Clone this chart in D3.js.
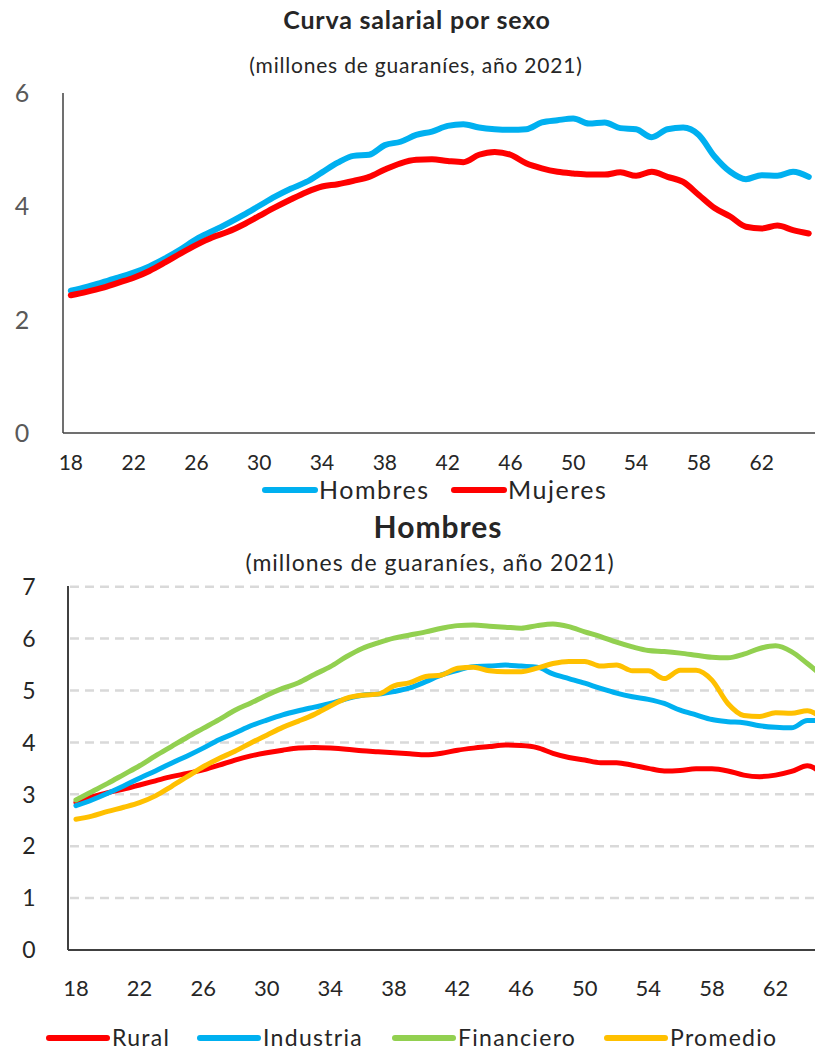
<!DOCTYPE html>
<html><head><meta charset="utf-8">
<script src="https://cdn.jsdelivr.net/npm/d3@7"></script>
<style>body{margin:0;background:#fff}svg{display:block}text{font-family:Lato,"Open Sans",sans-serif}</style>
</head><body><svg id="c" width="815" height="1051"></svg>
<script>
const ages = d3.range(18, 66);
const ageTicks = [18,22,26,30,34,38,42,46,50,54,58,62];
const topYTicks = [0,2,4,6];
const botYTicks = [0,1,2,3,4,5,6,7];

// Top chart: Curva salarial por sexo
const hombres = [2.51,2.58,2.66,2.74,2.83,2.94,3.08,3.24,3.42,3.56,3.70,3.85,4.01,4.17,4.31,4.43,4.60,4.77,4.89,4.91,5.08,5.14,5.26,5.32,5.42,5.45,5.39,5.36,5.35,5.36,5.48,5.52,5.55,5.46,5.48,5.38,5.36,5.22,5.36,5.39,5.26,4.88,4.61,4.48,4.55,4.54,4.61,4.52];
const mujeres = [2.43,2.49,2.56,2.65,2.74,2.86,3.01,3.17,3.32,3.45,3.55,3.68,3.83,3.98,4.12,4.25,4.35,4.39,4.45,4.52,4.65,4.76,4.82,4.83,4.80,4.78,4.91,4.96,4.91,4.76,4.67,4.61,4.58,4.56,4.56,4.60,4.54,4.61,4.52,4.43,4.20,3.97,3.82,3.64,3.61,3.66,3.58,3.52];

// Bottom chart: Hombres por sector
const rural = [2.84,2.95,3.03,3.10,3.18,3.26,3.34,3.40,3.47,3.56,3.66,3.74,3.80,3.85,3.89,3.90,3.89,3.87,3.84,3.82,3.80,3.78,3.76,3.79,3.85,3.89,3.92,3.95,3.94,3.90,3.79,3.71,3.66,3.61,3.61,3.56,3.50,3.45,3.46,3.49,3.49,3.45,3.37,3.34,3.37,3.44,3.55,3.38];
const industria = [2.78,2.89,3.02,3.16,3.31,3.45,3.60,3.74,3.89,4.05,4.18,4.32,4.43,4.53,4.61,4.68,4.75,4.84,4.91,4.93,4.98,5.05,5.17,5.30,5.39,5.46,5.47,5.49,5.47,5.45,5.32,5.23,5.14,5.04,4.95,4.88,4.83,4.75,4.62,4.53,4.44,4.40,4.38,4.32,4.29,4.28,4.42,4.42];
const financiero = [2.89,3.05,3.21,3.38,3.55,3.74,3.92,4.10,4.27,4.44,4.62,4.76,4.91,5.04,5.15,5.31,5.46,5.65,5.81,5.92,6.01,6.07,6.13,6.20,6.25,6.26,6.24,6.22,6.20,6.25,6.28,6.23,6.13,6.04,5.93,5.84,5.77,5.75,5.72,5.68,5.64,5.63,5.70,5.81,5.86,5.75,5.52,5.27];
const promedio = [2.52,2.58,2.67,2.75,2.84,2.97,3.15,3.34,3.53,3.69,3.83,3.99,4.14,4.29,4.41,4.54,4.70,4.85,4.91,4.93,5.09,5.15,5.27,5.30,5.43,5.45,5.38,5.36,5.36,5.43,5.52,5.56,5.56,5.47,5.49,5.38,5.38,5.23,5.39,5.39,5.20,4.75,4.52,4.50,4.57,4.56,4.61,4.45];

const svg = d3.select("#c");
const BLUE="#00B0F0", RED="#FF0000", GREEN="#92D050", YELLOW="#FFC000";

// ---------- TOP CHART ----------
const xT = d3.scaleBand().domain(ages).range([63, 63 + 48*15.7]);
const yT = d3.scaleLinear().domain([0,6]).range([433, 93]);
const cx = (x) => d => x(d) + x.bandwidth()/2;

svg.append("text").attr("x",417).attr("y",29).attr("text-anchor","middle")
  .attr("font-weight","bold").attr("font-size",25).attr("letter-spacing",0.8).attr("fill","#262626").text("Curva salarial por sexo");
svg.append("text").attr("x",416).attr("y",73).attr("text-anchor","middle")
  .attr("font-size",21).attr("letter-spacing",0.8).attr("fill","#262626").text("(millones de guaraníes, año 2021)");

const gT = svg.append("g");
gT.selectAll(".yl").data(topYTicks).join("text")
  .attr("x",22).attr("y",d=>yT(d)).attr("dy","0.36em").attr("text-anchor","middle")
  .attr("font-size",25).attr("fill","#595959").text(d=>d);
gT.append("g").attr("transform","translate(0,433)")
  .call(d3.axisBottom(xT).tickValues(ageTicks).tickSize(0).tickPadding(22))
  .call(g=>g.select(".domain").attr("stroke","#404040").attr("stroke-width",1.5).attr("d","M63,0H815"))
  .call(g=>g.selectAll("text").attr("font-size",21).attr("fill","#262626").attr("font-family","Lato"));
gT.append("line").attr("x1",63).attr("x2",63).attr("y1",93).attr("y2",433).attr("stroke","#404040").attr("stroke-width",1.5);

const lineT = (vals) => d3.line().x((d,i)=>cx(xT)(ages[i])).y(d=>yT(d)).curve(d3.curveMonotoneX)(vals);
gT.append("path").attr("d",lineT(hombres)).attr("fill","none").attr("stroke",BLUE).attr("stroke-width",6).attr("stroke-linecap","round");
gT.append("path").attr("d",lineT(mujeres)).attr("fill","none").attr("stroke",RED).attr("stroke-width",6).attr("stroke-linecap","round");

const legT = [{n:"Hombres",c:BLUE,x:265},{n:"Mujeres",c:RED,x:454}];
const lt = svg.selectAll(".lt").data(legT).join("g");
lt.append("line").attr("x1",d=>d.x).attr("x2",d=>d.x+50).attr("y1",490).attr("y2",490)
  .attr("stroke",d=>d.c).attr("stroke-width",6).attr("stroke-linecap","round");
lt.append("text").attr("x",d=>d.x+54).attr("y",490).attr("dy","0.36em").attr("font-size",25)
  .attr("letter-spacing",1.5).attr("fill","#262626").text(d=>d.n);

// ---------- BOTTOM CHART ----------
const xB = d3.scaleBand().domain(ages).range([68, 68 + 48*15.9]);
const yB = d3.scaleLinear().domain([0,7]).range([950, 586.7]);

svg.append("text").attr("x",438).attr("y",538).attr("text-anchor","middle")
  .attr("font-weight","bold").attr("font-size",30).attr("letter-spacing",1).attr("fill","#262626").text("Hombres");
svg.append("text").attr("x",430).attr("y",571).attr("text-anchor","middle")
  .attr("font-size",23).attr("letter-spacing",1).attr("fill","#262626").text("(millones de guaraníes, año 2021)");

const gB = svg.append("g");
gB.selectAll(".grid").data(botYTicks.filter(d=>d>0)).join("line")
  .attr("x1",70).attr("x2",815).attr("y1",d=>yB(d)).attr("y2",d=>yB(d))
  .attr("stroke","#D9D9D9").attr("stroke-width",2.5).attr("stroke-dasharray","9,6");
gB.selectAll(".yl").data(botYTicks).join("text")
  .attr("x",29).attr("y",d=>yB(d)).attr("dy","0.36em").attr("text-anchor","middle")
  .attr("font-size",23).attr("fill","#262626").text(d=>d);
gB.append("g").attr("transform","translate(0,950)")
  .call(d3.axisBottom(xB).tickValues(ageTicks).tickSize(0).tickPadding(30))
  .call(g=>g.select(".domain").attr("stroke","#404040").attr("stroke-width",2).attr("d","M68,0H815"))
  .call(g=>g.selectAll("text").attr("font-size",22).attr("fill","#262626").attr("font-family","Lato"));
gB.append("line").attr("x1",68).attr("x2",68).attr("y1",586).attr("y2",950).attr("stroke","#404040").attr("stroke-width",2);

const lineB = (vals) => d3.line().x((d,i)=>cx(xB)(ages[i])).y(d=>yB(d)).curve(d3.curveMonotoneX)(vals);
[[rural,RED],[industria,BLUE],[financiero,GREEN],[promedio,YELLOW]].forEach(([v,c])=>{
  gB.append("path").attr("d",lineB(v)).attr("fill","none").attr("stroke",c).attr("stroke-width",5).attr("stroke-linecap","round");
});

const legB = [{n:"Rural",c:RED,x:49},{n:"Industria",c:BLUE,x:200},{n:"Financiero",c:GREEN,x:395},{n:"Promedio",c:YELLOW,x:607}];
const lb = svg.selectAll(".lb").data(legB).join("g");
lb.append("line").attr("x1",d=>d.x).attr("x2",d=>d.x+58).attr("y1",1038).attr("y2",1038)
  .attr("stroke",d=>d.c).attr("stroke-width",6).attr("stroke-linecap","round");
lb.append("text").attr("x",d=>d.x+63).attr("y",1038).attr("dy","0.36em").attr("font-size",23)
  .attr("letter-spacing",1.3).attr("fill","#262626").text(d=>d.n);
</script></body></html>
